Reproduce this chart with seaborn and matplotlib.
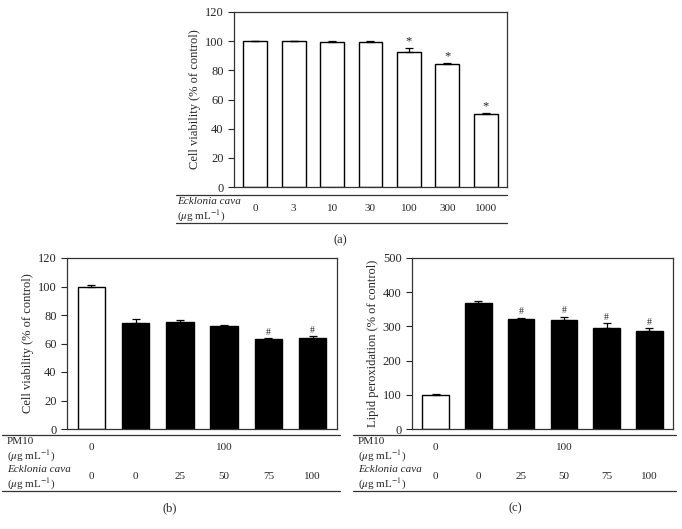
import matplotlib
matplotlib.use("Agg")
import matplotlib.pyplot as plt
from matplotlib.lines import Line2D
import seaborn as sns
import pandas as pd
import numpy as np

sns.set_theme(style="ticks")
plt.rcParams["font.family"] = ["Liberation Serif", "DejaVu Serif"]
plt.rcParams["mathtext.fontset"] = "stix"

# ─── Data ─────────────────────────────────────────────────────────────────────
# (a) Ecklonia cava alone
a_dose = ["0", "3", "10", "30", "100", "300", "1000"]
a_mean = [100, 100, 99.6, 99.6, 92.6, 84.3, 50.2]
a_err = [0.2, 0.2, 0.5, 0.4, 2.8, 1.0, 0.7]
a_sig = ["", "", "", "", "*", "*", "*"]

# (b)/(c) PM10 + Ecklonia cava
pm10 = ["0", "100", "100", "100", "100", "100"]
ec_dose = ["0", "0", "25", "50", "75", "100"]
b_mean = [100, 74.6, 74.8, 72.0, 63.3, 63.6]
b_err = [0.8, 2.6, 2.0, 1.0, 0.3, 1.4]
b_sig = ["", "", "", "", "#", "#"]
c_mean = [100, 367, 322, 320, 294, 287]
c_err = [2.5, 6, 4, 8, 16, 8]
c_sig = ["", "", "#", "#", "#", "#"]

UNIT = r"($\mu$g mL$^{-1}$)"
W, H = 682, 529
FS = 8


def fx(px):
    return px / W


def fy(py):
    return 1 - py / H


def hline(fig, x0, x1, y):
    fig.add_artist(Line2D([fx(x0), fx(x1)], [fy(y), fy(y)], color="#333333", lw=0.9))


def bar_panel(ax, labels, means, errs, sigs, colors, ymax, step, ylabel, sig_size, pad):
    df = pd.DataFrame({"grp": labels, "val": means})
    sns.barplot(data=df, x="grp", y="val", hue="grp", palette=colors, legend=False,
                edgecolor="black", linewidth=1.0, width=0.62, errorbar=None, ax=ax)
    x = np.arange(len(means))
    ax.errorbar(x, means, yerr=[np.zeros(len(errs)), errs], fmt="none",
                ecolor="black", elinewidth=0.9, capsize=3, capthick=0.9)
    for xi, m, e, s in zip(x, means, errs, sigs):
        if s:
            ax.text(xi, m + e + pad, s, ha="center", va="bottom", fontsize=sig_size)
    ax.set_xlim(-0.55, len(means) - 0.45)
    ax.set_ylim(0, ymax)
    ax.set_yticks(np.arange(0, ymax + 1, step))
    ax.set_xticks([])
    ax.set_xlabel("")
    ax.set_ylabel(ylabel, fontsize=9, labelpad=3)
    ax.tick_params(axis="y", labelsize=9, length=4, width=0.8, direction="out")
    for sp in ax.spines.values():
        sp.set_visible(True)
        sp.set_linewidth(0.9)
        sp.set_color("#333333")


fig = plt.figure(figsize=(6.82, 5.29), dpi=100)

# ─── (a) ──────────────────────────────────────────────────────────────────────
ax_a = fig.add_axes([fx(234), fy(187), fx(507 - 234), (187 - 12) / H])
bar_panel(ax_a, a_dose, a_mean, a_err, a_sig, ["white"] * 7, 120, 20,
          "Cell viability (% of control)", 9, 0.5)
ta = ax_a.get_xaxis_transform()
for i, d in enumerate(a_dose):
    ax_a.text(i, -0.125, d, transform=ta, ha="center", va="center", fontsize=FS)
hline(fig, 176, 507, 195)
hline(fig, 176, 507, 223)
fig.text(fx(177), fy(202), "Ecklonia cava", style="italic", fontsize=FS, va="center")
fig.text(fx(177), fy(216), UNIT, fontsize=FS, va="center")
fig.text(fx(340), fy(240), "(a)", ha="center", va="center", fontsize=9)

# ─── (b) and (c) ──────────────────────────────────────────────────────────────
bc_colors = ["white"] + ["black"] * 5
panels = [
    (67, 337, 2, 340, b_mean, b_err, b_sig, 120, 20, "Cell viability (% of control)", 170, "(b)", 1.0),
    (412, 673, 353, 676, c_mean, c_err, c_sig, 500, 100, "Lipid peroxidation (% of control)", 515, "(c)", 4),
]
grp = [f"{p}/{e}" for p, e in zip(pm10, ec_dose)]
for left, right, l0, l1, means, errs, sigs, ymax, step, ylab, capx, cap, pad in panels:
    ax = fig.add_axes([fx(left), fy(429), fx(right - left), (429 - 258) / H])
    bar_panel(ax, grp, means, errs, sigs, bc_colors, ymax, step, ylab, 7, pad)
    tr = ax.get_xaxis_transform()
    # PM10 row
    ax.text(0, -0.11, pm10[0], transform=tr, ha="center", va="center", fontsize=FS)
    ax.text((1 + len(pm10) - 1) / 2, -0.11, pm10[1], transform=tr,
            ha="center", va="center", fontsize=FS)
    # Ecklonia cava row
    for i, d in enumerate(ec_dose):
        ax.text(i, -0.28, d, transform=tr, ha="center", va="center", fontsize=FS)
    hline(fig, l0, l1, 435)
    hline(fig, l0, l1, 491)
    fig.text(fx(l0 + 5), fy(441), "PM10", fontsize=FS, va="center")
    fig.text(fx(l0 + 5), fy(456), UNIT, fontsize=FS, va="center")
    fig.text(fx(l0 + 5), fy(470), "Ecklonia cava", style="italic", fontsize=FS, va="center")
    fig.text(fx(l0 + 5), fy(484), UNIT, fontsize=FS, va="center")
    fig.text(fx(capx), fy(508), cap, ha="center", va="center", fontsize=9)

fig.savefig("out.png", dpi=100)
